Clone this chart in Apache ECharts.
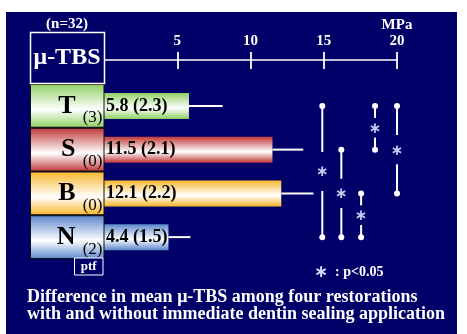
<!DOCTYPE html>
<html><head><meta charset="utf-8">
<script src="https://cdn.jsdelivr.net/npm/echarts@6/dist/echarts.min.js"></script>
<style>html,body{margin:0;padding:0;background:#fff}#c{width:467px;height:334px}</style>
</head><body><div id="c"></div>
<script>
// ---- data ----
const categories = ['T', 'S', 'B', 'N'];
const ptfCounts = ['(3)', '(0)', '(0)', '(2)'];
const means = [5.8, 11.5, 12.1, 4.4];
const sds = [2.3, 2.1, 2.2, 1.5];
const tickLabels = ['5', '10', '15', '20'];
// significant pairs (p<0.05): bracket position on MPa axis, from / to category
const sigX = [14.9, 16.2, 17.55, 18.5, 20.0];
const sigFrom = ['T', 'S', 'B', 'T', 'T'];
const sigTo = ['N', 'N', 'N', 'S', 'B'];
const barColors = ['#8fd062', '#c13737', '#f8b62c', '#5a87cc'];

const FONT = '"Liberation Serif", "Times New Roman", serif';
const NAVY = '#000068';

function grad(c) {
  return new echarts.graphic.LinearGradient(0, 0, 0, 1, [
    { offset: 0, color: c }, { offset: 0.58, color: '#ffffff' }, { offset: 1, color: c }
  ]);
}

const chart = echarts.init(document.getElementById('c'), null, { renderer: 'canvas' });

const axisCommon = {
  type: 'value', min: 0, max: 20, interval: 5, position: 'top', offset: 24,
  splitLine: { show: false }
};

const option = {
  backgroundColor: '#ffffff',
  animation: false,
  grid: { left: 104, right: 70, top: 84, bottom: 75, containLabel: false },
  xAxis: [
    Object.assign({}, axisCommon, {
      axisLine: { show: true, lineStyle: { color: '#ffffff', width: 1.5 } },
      axisTick: { show: true, inside: true, length: 9, lineStyle: { color: '#ffffff', width: 1.8 } },
      axisLabel: {
        show: true, color: '#ffffff', fontFamily: FONT, fontWeight: 'bold', fontSize: 15, margin: 11,
        formatter: v => (v === 0 ? '' : tickLabels[v / 5 - 1])
      }
    }),
    Object.assign({}, axisCommon, {
      axisLine: { show: false },
      axisTick: { show: true, inside: false, length: 8, lineStyle: { color: '#ffffff', width: 1.8 } },
      axisLabel: { show: false }
    })
  ],
  yAxis: {
    type: 'category', data: categories, inverse: true,
    axisLine: { show: false }, axisTick: { show: false }, axisLabel: { show: false }, splitLine: { show: false }
  },
  graphic: [
    { type: 'rect', z: -100, shape: { x: 6, y: 12, width: 451, height: 322 }, style: { fill: NAVY } },
    { type: 'rect', z: 50, shape: { x: 30.5, y: 32.5, width: 74, height: 51 }, style: { fill: NAVY, stroke: '#ffffff', lineWidth: 1.5 } },
    { type: 'text', z: 51, style: { x: 67, y: 58, text: 'μ-TBS', fill: '#ffffff', font: 'bold 24px ' + FONT, align: 'center', verticalAlign: 'middle' } },
    { type: 'text', z: 51, style: { x: 67, y: 24, text: '(n=32)', fill: '#ffffff', font: 'bold 15px ' + FONT, align: 'center', verticalAlign: 'middle' } },
    { type: 'text', z: 51, style: { x: 397, y: 25, text: 'MPa', fill: '#ffffff', font: 'bold 15px ' + FONT, align: 'center', verticalAlign: 'middle' } },
    { type: 'rect', z: 50, shape: { x: 74.5, y: 258, width: 28.5, height: 17 }, style: { fill: NAVY, stroke: '#ffffff', lineWidth: 1 } },
    { type: 'text', z: 51, style: { x: 88.7, y: 266.5, text: 'ptf', fill: '#ffffff', font: 'bold 13px ' + FONT, align: 'center', verticalAlign: 'middle' } },
    { type: 'text', z: 51, style: { x: 321, y: 273, text: '∗', fill: '#d8d8ff', font: 'bold 17px "DejaVu Sans"', align: 'center', verticalAlign: 'middle' } },
    { type: 'text', z: 51, style: { x: 335, y: 272, text: ': p<0.05', fill: '#ffffff', font: 'bold 14px ' + FONT, align: 'left', verticalAlign: 'middle' } },
    { type: 'text', z: 51, style: { x: 27, y: 297.5, text: 'Difference in mean μ-TBS among four restorations', fill: '#ffffff', font: 'bold 18px ' + FONT, align: 'left', verticalAlign: 'middle' } },
    { type: 'text', z: 51, style: { x: 27, y: 314, text: 'with and without immediate dentin sealing application', fill: '#ffffff', font: 'bold 18px ' + FONT, align: 'left', verticalAlign: 'middle' } }
  ],
  series: [
    {
      type: 'bar', xAxisIndex: 0, barWidth: 26, z: 3,
      data: means.map((m, i) => ({ value: m, itemStyle: { color: grad(barColors[i]) } })),
      label: {
        show: true, position: 'insideLeft', distance: 2, color: '#000000',
        fontFamily: FONT, fontWeight: 'bold', fontSize: 18,
        formatter: p => means[p.dataIndex] + ' (' + sds[p.dataIndex] + ')'
      }
    },
    {
      type: 'custom', xAxisIndex: 0, clip: false, z: 2,
      data: means.map((m, i) => [m, i, sds[i]]),
      encode: { x: 0, y: 1 },
      renderItem: (params, api) => {
        const a = api.coord([api.value(0), api.value(1)]);
        const b = api.coord([api.value(0) + api.value(2), api.value(1)]);
        return { type: 'line', shape: { x1: a[0], y1: a[1], x2: b[0], y2: b[1] }, style: { stroke: '#ffffff', lineWidth: 2 } };
      }
    },
    {
      // category label boxes
      type: 'custom', xAxisIndex: 0, clip: false, z: 4,
      data: categories.map((c, i) => [0, i]),
      encode: { x: 0, y: 1 },
      renderItem: (params, api) => {
        const i = params.dataIndex;
        const p = api.coord([0, i]);
        const band = api.size([0, 1])[1];
        return {
          type: 'group', children: [
            { type: 'rect', shape: { x: 30.5, y: p[1] - band / 2 + 0.5, width: p[0] - 30.5, height: band - 1 },
              style: { fill: grad(barColors[i]), stroke: '#111111', lineWidth: 1 } },
            { type: 'text', style: { x: 75.5, y: p[1], text: categories[i], fill: '#000000', font: 'bold 26px ' + FONT, align: 'right', verticalAlign: 'middle' } },
            { type: 'text', style: { x: 102.5, y: p[1] + 12, text: ptfCounts[i], fill: '#000000', font: '17px ' + FONT, align: 'right', verticalAlign: 'middle' } }
          ]
        };
      }
    },
    {
      // significance brackets
      type: 'custom', xAxisIndex: 0, clip: false, z: 5,
      data: sigX.map((x, k) => [x, categories.indexOf(sigFrom[k]), categories.indexOf(sigTo[k])]),
      encode: { x: 0, y: 1 },
      renderItem: (params, api) => {
        const a = api.coord([api.value(0), api.value(1)]);
        const b = api.coord([api.value(0), api.value(2)]);
        const mid = (a[1] + b[1]) / 2;
        const half = 5 + 0.11 * (b[1] - a[1]);
        const st = { stroke: '#ffffff', lineWidth: 2 };
        return {
          type: 'group', children: [
            { type: 'line', shape: { x1: a[0], y1: a[1], x2: a[0], y2: mid - half }, style: st },
            { type: 'line', shape: { x1: a[0], y1: mid + half, x2: a[0], y2: b[1] }, style: st },
            { type: 'circle', shape: { cx: a[0], cy: a[1], r: 3 }, style: { fill: '#ffffff' } },
            { type: 'circle', shape: { cx: b[0], cy: b[1], r: 3 }, style: { fill: '#ffffff' } },
            { type: 'text', style: { x: a[0], y: mid + 1, text: '∗', fill: '#c8c8f4', font: 'bold 15px "DejaVu Sans"', align: 'center', verticalAlign: 'middle' } }
          ]
        };
      }
    }
  ]
};
chart.setOption(option);
</script>
</body></html>
